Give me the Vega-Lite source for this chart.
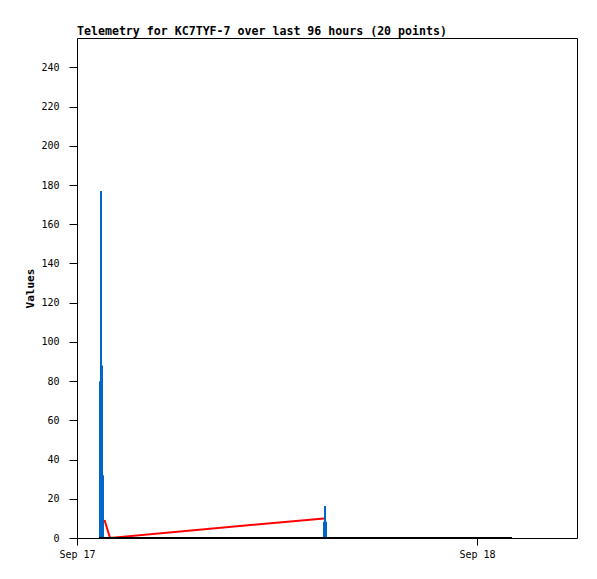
{
  "$schema": "https://vega.github.io/schema/vega-lite/v6.json",
  "width": 500,
  "height": 500,
  "autosize": {"type": "none"},
  "padding": {"left": 77, "top": 38, "right": 20, "bottom": 41},
  "background": "white",
  "config": {"view": {"stroke": "#000", "strokeWidth": 1}, "font": "DejaVu Sans Mono"},
  "title": {
    "text": "Telemetry for KC7TYF-7 over last 96 hours (20 points)",
    "anchor": "start",
    "frame": "group",
    "font": "DejaVu Sans Mono",
    "fontSize": 11.6,
    "fontWeight": "bold",
    "color": "#000",
    "baseline": "alphabetic",
    "offset": -9
  },
  "data": {
    "values": [
      {"t": "2025-09-17T01:22:48Z", "series": "blue", "v": 80},
      {"t": "2025-09-17T01:26:24Z", "series": "blue", "v": 177},
      {"t": "2025-09-17T01:30:00Z", "series": "blue", "v": 88},
      {"t": "2025-09-17T01:33:36Z", "series": "blue", "v": 32},
      {"t": "2025-09-17T14:49:12Z", "series": "blue", "v": 8.3},
      {"t": "2025-09-17T14:52:48Z", "series": "blue", "v": 16.3},
      {"t": "2025-09-17T14:56:24Z", "series": "blue", "v": 8.3},
      {"t": "2025-09-17T01:39:00Z", "series": "red", "v": 9.2},
      {"t": "2025-09-17T01:59:00Z", "series": "red", "v": 0},
      {"t": "2025-09-17T14:49:00Z", "series": "red", "v": 10},
      {"t": "2025-09-17T01:19:00Z", "series": "black", "v": 0},
      {"t": "2025-09-17T01:39:00Z", "series": "black", "v": 0},
      {"t": "2025-09-17T01:59:00Z", "series": "black", "v": 0},
      {"t": "2025-09-17T14:49:00Z", "series": "black", "v": 0},
      {"t": "2025-09-18T02:06:00Z", "series": "black", "v": 0}
    ]
  },
  "encoding": {
    "x": {
      "field": "t",
      "type": "temporal",
      "scale": {
        "type": "utc",
        "domain": [
          {"year": 2025, "month": 9, "date": 17, "utc": true},
          {"year": 2025, "month": 9, "date": 18, "hours": 6, "utc": true}
        ]
      },
      "axis": {
        "title": null,
        "values": [
          {"year": 2025, "month": 9, "date": 17, "utc": true},
          {"year": 2025, "month": 9, "date": 18, "utc": true}
        ],
        "format": "%b %d",
        "domain": false,
        "grid": false,
        "tickSize": 7,
        "tickColor": "#000",
        "labelColor": "#000",
        "labelFont": "DejaVu Sans Mono",
        "labelFontSize": 10,
        "labelPadding": 4,
        "labelFlush": false
      }
    },
    "y": {
      "field": "v",
      "type": "quantitative",
      "scale": {"domain": [0, 255], "nice": false, "zero": true},
      "axis": {
        "title": "Values",
        "values": [0, 20, 40, 60, 80, 100, 120, 140, 160, 180, 200, 220, 240],
        "domain": false,
        "grid": false,
        "tickSize": 8,
        "tickColor": "#000",
        "labelColor": "#000",
        "labelFont": "DejaVu Sans Mono",
        "labelFontSize": 10,
        "labelPadding": 10,
        "titleFont": "DejaVu Sans Mono",
        "titleFontSize": 11,
        "titleFontWeight": "bold",
        "titleColor": "#000",
        "titlePadding": 5
      }
    }
  },
  "layer": [
    {
      "transform": [{"filter": "datum.series === 'blue'"}],
      "mark": {"type": "rule", "color": "#0066cc", "strokeWidth": 2},
      "encoding": {"y2": {"datum": 0}}
    },
    {
      "transform": [{"filter": "datum.series === 'red'"}],
      "mark": {"type": "line", "color": "#ff0000", "strokeWidth": 2},
      "encoding": {}
    },
    {
      "transform": [{"filter": "datum.series === 'black'"}],
      "mark": {"type": "line", "color": "#000000", "strokeWidth": 2},
      "encoding": {}
    }
  ]
}
